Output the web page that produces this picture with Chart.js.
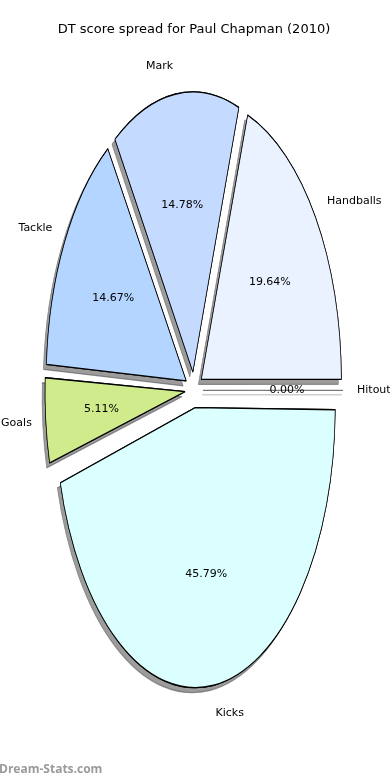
<!DOCTYPE html>
<html>
<head>
<meta charset="utf-8">
<script src="https://cdn.jsdelivr.net/npm/chart.js@4.4.1/dist/chart.umd.min.js"></script>
<style>
  body { margin: 0; background: #fff; }
  #wrap { width: 390px; height: 780px; position: relative; }
</style>
</head>
<body>
<div id="wrap"><canvas id="pie-chart"></canvas></div>
<script>
// slice data, in the order the source lists them
var labels = ['Handballs', 'Mark', 'Tackle', 'Goals', 'Kicks', 'Hitout'];
var values = [19.64, 14.78, 14.67, 5.11, 45.79, 0.00];
var colours = ['#EBF2FF', '#C5DAFF', '#B4D5FF', '#D0EB8C', '#DBFFFF', '#EEEEEE'];

var R = 140;        // radius in circle space
var OFF = 9;        // explode distance (px, circle space)
var SY = 2;         // vertical stretch of the pie

// chart.js goes clockwise, source goes counter clockwise -> reverse
var rLabels = labels.slice().reverse();
var rValues = values.slice().reverse();
var rColours = colours.slice().reverse();

var pieStretch = {
    id: 'pieStretch',
    afterDatasetsUpdate: function(chart) {
        // undo the radius growth chart.js adds to offset arcs
        chart.getDatasetMeta(0).data.forEach(function(arc) {
            var c = arc.endAngle - arc.startAngle;
            var fix = 1 - Math.sin(Math.min(Math.PI, c));
            arc.outerRadius = R - OFF * fix;
        });
    },
    beforeDatasetsDraw: function(chart) {
        var ctx = chart.ctx;
        var cy = chart.getDatasetMeta(0).data[0].y;
        ctx.save();
        ctx.translate(0, cy);
        ctx.scale(1, SY);
        ctx.translate(0, -cy);
        // first pass draws the drop shadows
        ctx.shadowColor = 'rgba(90,90,90,0.6)';
        ctx.shadowOffsetX = -3;
        ctx.shadowOffsetY = 5;
        ctx.shadowBlur = 0;
    },
    afterDatasetsDraw: function(chart) {
        var ctx = chart.ctx;
        var arcs = chart.getDatasetMeta(0).data;
        // second pass without shadow, covers the stroke shadows
        ctx.shadowColor = 'rgba(0,0,0,0)';
        ctx.shadowOffsetX = 0;
        ctx.shadowOffsetY = 0;
        arcs.forEach(function(arc) { arc.draw(ctx); });
        ctx.restore();
        var cy = arcs[0].y;
        ctx.save();
        arcs.forEach(function(arc, i) {
            var mid = (arc.startAngle + arc.endAngle) / 2;
            var c = Math.cos(mid), s = Math.sin(mid);
            var ax = arc.x + c * OFF, ay = arc.y + s * OFF;
            if (rValues[i] === 0) {
                // zero wedge collapses to a line
                var y0 = cy + SY * (ay - cy);
                ctx.lineWidth = 1.5;
                ctx.strokeStyle = '#cfcfcf';
                ctx.beginPath();
                ctx.moveTo(ax - 1, y0 + 5);
                ctx.lineTo(ax + R - 1, y0 + 5);
                ctx.stroke();
                ctx.lineWidth = 1.3;
                ctx.strokeStyle = '#7a7a7a';
                ctx.beginPath();
                ctx.moveTo(ax, y0 + 0.5);
                ctx.lineTo(ax + R, y0 + 0.5);
                ctx.stroke();
            }
            ctx.fillStyle = '#000';
            ctx.font = '11px "DejaVu Sans"';
            ctx.textBaseline = 'middle';
            // label outside
            var lx = ax + c * R * 1.1;
            var ly = cy + SY * (ay + s * R * 1.1 - cy);
            ctx.textAlign = c > 0 ? 'left' : 'right';
            ctx.fillText(rLabels[i], lx, ly);
            // percentage inside
            var px = ax + c * R * 0.6;
            var py = cy + SY * (ay + s * R * 0.6 - cy);
            ctx.textAlign = 'center';
            ctx.fillText(rValues[i].toFixed(2) + '%', px, py);
        });
        ctx.font = 'bold 12px "Open Sans"';
        ctx.fillStyle = '#9a9a9a';
        ctx.textAlign = 'left';
        ctx.textBaseline = 'middle';
        ctx.fillText('Dream-Stats.com', -1, 770);
        ctx.restore();
    }
};

new Chart(document.getElementById('pie-chart'), {
    type: 'pie',
    data: {
        labels: rLabels,
        datasets: [{
            data: rValues,
            backgroundColor: rColours,
            borderColor: '#000',
            borderWidth: 0.7,
            offset: OFF * 4,
            clip: false
        }]
    },
    options: {
        responsive: true,
        maintainAspectRatio: false,
        animation: false,
        rotation: 90,
        radius: R,
        layout: { padding: { bottom: 48, right: 2 } },
        plugins: {
            legend: { display: false },
            tooltip: { enabled: false },
            title: {
                display: true,
                text: 'DT score spread for Paul Chapman (2010)',
                color: '#000',
                font: { family: 'DejaVu Sans', size: 13, weight: 'normal' },
                padding: { top: 22, bottom: 10 }
            }
        }
    },
    plugins: [pieStretch]
});
</script>
</body>
</html>
